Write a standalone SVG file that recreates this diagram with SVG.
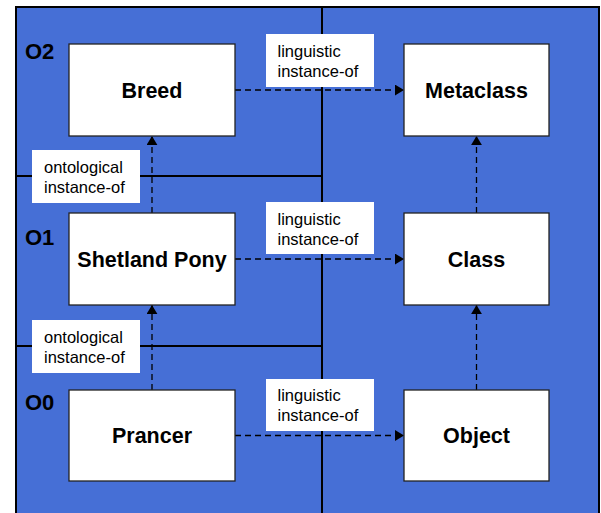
<svg xmlns="http://www.w3.org/2000/svg" width="601" height="513" viewBox="0 0 601 513">
<defs>
<marker id="arr" viewBox="0 0 10 12" refX="10" refY="6" markerWidth="9" markerHeight="11" markerUnits="userSpaceOnUse" orient="auto">
<path d="M0,0 L10,6 L0,12 Z" fill="#000"/>
</marker>
</defs>
<style>
.node rect{fill:#fff;stroke:#222;stroke-width:1.3}
.node text{font-family:"Liberation Sans",Arial,sans-serif;font-weight:bold;font-size:21.5px;fill:#000;text-anchor:middle}
.lvl{font-family:"Liberation Sans",Arial,sans-serif;font-weight:bold;font-size:22px;fill:#000}
.lbl rect{fill:#fff;stroke:none}
.lbl text{font-family:"Liberation Sans",Arial,sans-serif;font-size:16.5px;fill:#000}
.conn line{stroke:#000;stroke-width:1.3;stroke-dasharray:6 4;marker-end:url(#arr)}
.div{stroke:#000;stroke-width:2;fill:none}
</style>
<rect x="0" y="0" width="601" height="513" fill="#fff"/>
<rect x="16" y="7" width="583" height="510" fill="#466fd6" stroke="#000" stroke-width="2"/>
<g id="dividers">
<line class="div" x1="322" y1="7" x2="322" y2="513"/>
<line class="div" x1="16" y1="176" x2="322" y2="176"/>
<line class="div" x1="16" y1="346" x2="322" y2="346"/>
</g>
<g id="levels">
<text class="lvl" x="25" y="59">O2</text>
<text class="lvl" x="25" y="245">O1</text>
<text class="lvl" x="25" y="410">O0</text>
</g>
<g id="labels" class="lbl">
<g id="lbl-ling2"><rect x="266" y="34" width="108" height="53"/><text x="277.5" y="57">linguistic</text><text x="277.5" y="76.5">instance-of</text></g>
<g id="lbl-ling1"><rect x="266" y="202" width="108" height="52"/><text x="277.5" y="225">linguistic</text><text x="277.5" y="244.5">instance-of</text></g>
<g id="lbl-ling0"><rect x="266" y="379" width="108" height="52"/><text x="277.5" y="401">linguistic</text><text x="277.5" y="420.5">instance-of</text></g>
<g id="lbl-onto1"><rect x="32" y="150" width="108" height="53"/><text x="44" y="173">ontological</text><text x="44" y="192.5">instance-of</text></g>
<g id="lbl-onto0"><rect x="32" y="320" width="108" height="53"/><text x="44" y="343">ontological</text><text x="44" y="362.5">instance-of</text></g>
</g>
<g id="connectors" class="conn">
<line x1="235" y1="90" x2="404" y2="90"/>
<line x1="235" y1="259" x2="404" y2="259"/>
<line x1="235" y1="435.5" x2="404" y2="435.5"/>
<line x1="152" y1="213" x2="152" y2="136"/>
<line x1="152" y1="390" x2="152" y2="305"/>
<line x1="476.5" y1="213" x2="476.5" y2="136"/>
<line x1="476.5" y1="390" x2="476.5" y2="305"/>
</g>
<g id="breed" class="node"><rect x="69" y="44" width="166" height="92"/><text x="152" y="97.7">Breed</text></g>
<g id="metaclass" class="node"><rect x="404" y="44" width="145" height="92"/><text x="476.5" y="97.7">Metaclass</text></g>
<g id="shetland" class="node"><rect x="69" y="213" width="166" height="92"/><text x="152" y="266.8">Shetland Pony</text></g>
<g id="class" class="node"><rect x="404" y="213" width="145" height="92"/><text x="476.5" y="266.8">Class</text></g>
<g id="prancer" class="node"><rect x="69" y="390" width="166" height="91"/><text x="152" y="443.2">Prancer</text></g>
<g id="object" class="node"><rect x="404" y="390" width="145" height="91"/><text x="476.5" y="443.2">Object</text></g>
</svg>
